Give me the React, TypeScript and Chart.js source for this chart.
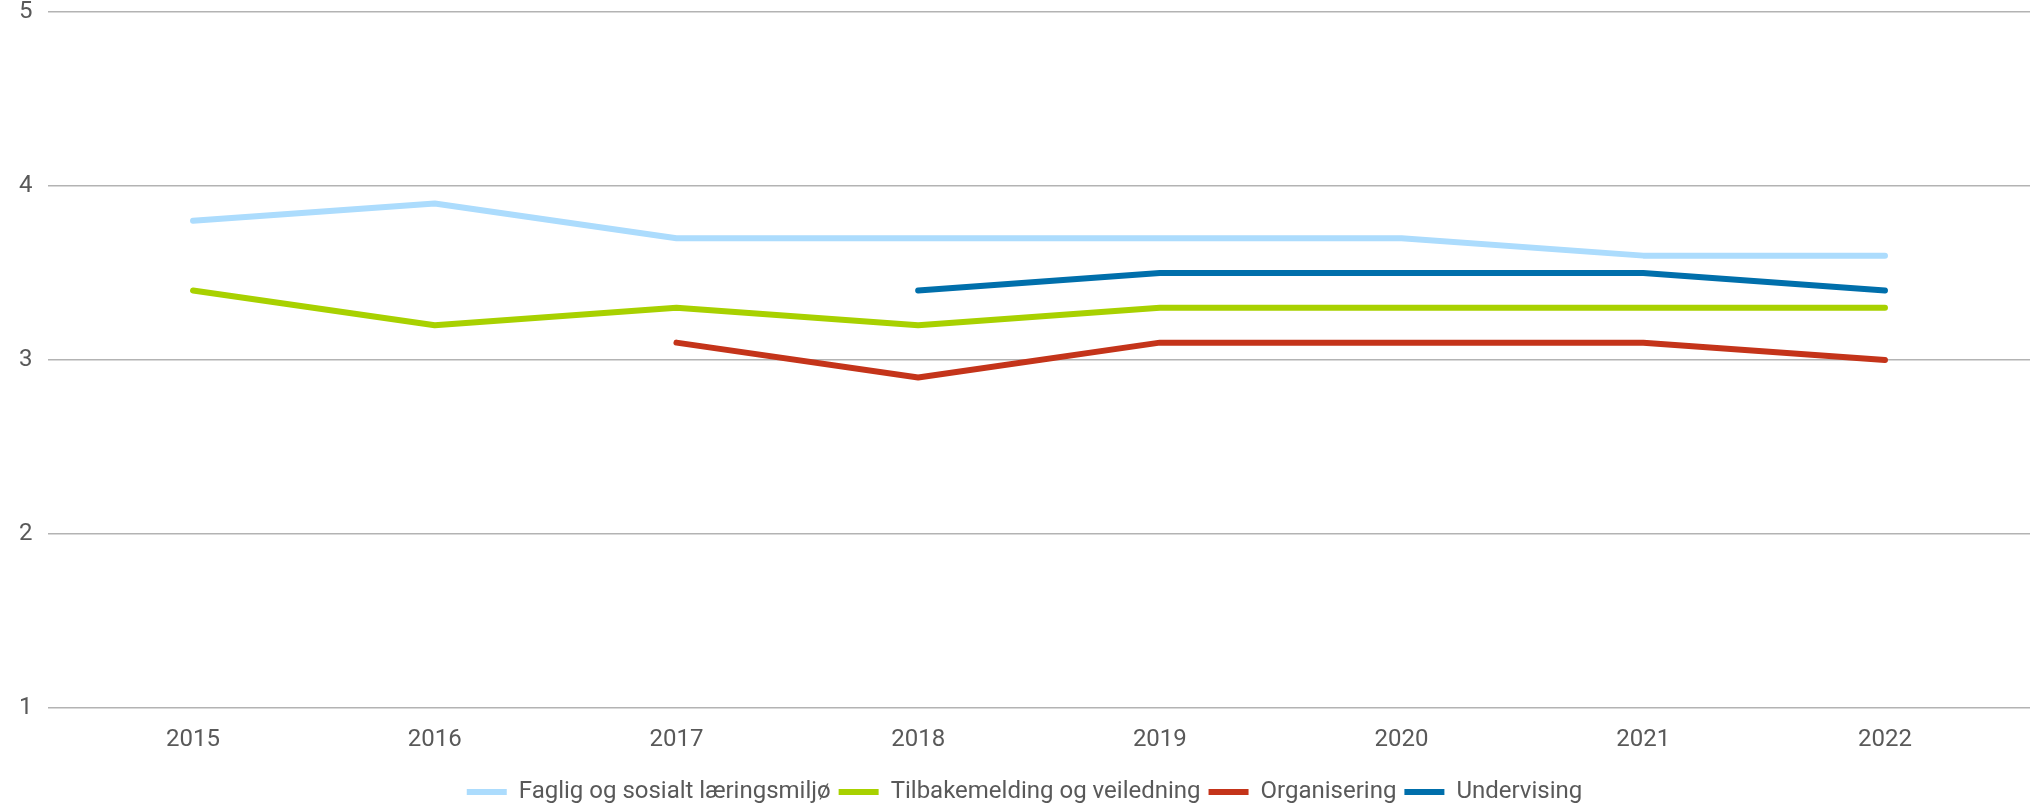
import React, { useEffect, useRef } from "react";
import { Chart, registerables } from "chart.js";

Chart.register(...registerables);

const years = [2015, 2016, 2017, 2018, 2019, 2020, 2021, 2022];
const fagligSosialt = [3.8, 3.9, 3.7, 3.7, 3.7, 3.7, 3.6, 3.6];
const tilbakemelding = [3.4, 3.2, 3.3, 3.2, 3.3, 3.3, 3.3, 3.3];
const organisering = [null, null, 3.1, 2.9, 3.1, 3.1, 3.1, 3.0];
const undervising = [null, null, null, 3.4, 3.5, 3.5, 3.5, 3.4];
const seriesNames = [
  "Faglig og sosialt læringsmiljø",
  "Tilbakemelding og veiledning",
  "Organisering",
  "Undervising",
];
const seriesColors = ["#acdcfd", "#a8d100", "#c4341a", "#006fab"];
const yTicks = [1, 2, 3, 4, 5];

export default function App() {
  const ref = useRef<HTMLCanvasElement | null>(null);
  useEffect(() => {
    if (!ref.current) return;
    const allSeries = [fagligSosialt, tilbakemelding, organisering, undervising];
    const chart = new Chart(ref.current, {
      type: "line",
      data: {
        datasets: allSeries.map((s, i) => ({
          label: seriesNames[i],
          data: years.map((y, j) => ({ x: y, y: s[j] as any })),
          borderColor: seriesColors[i],
          backgroundColor: seriesColors[i],
          borderWidth: 6,
          borderCapStyle: "round" as const,
          borderJoinStyle: "round" as const,
          pointRadius: 0,
          pointHoverRadius: 0,
          pointStyle: "line" as const,
          tension: 0,
          fill: false,
          spanGaps: false,
        })),
      },
      options: {
        animation: false,
        responsive: false,
        maintainAspectRatio: false,
        layout: { padding: { top: 0, right: 8, left: 19, bottom: -8 } },
        plugins: {
          tooltip: { enabled: false },
          legend: {
            position: "bottom",
            labels: {
              usePointStyle: true,
              pointStyleWidth: 40,
              boxHeight: 5,
              padding: 8,
              color: "#595959",
              font: { family: "Roboto", size: 24 },
            },
          },
        },
        scales: {
          x: {
            type: "linear",
            min: 2014.4,
            max: 2022.6,
            grid: { display: false, drawTicks: false },
            border: { display: false },
            afterBuildTicks: (scale: any) => {
              scale.ticks = years.map((v) => ({ value: v }));
            },
            ticks: {
              padding: 10,
              color: "#595959",
              font: { family: "Roboto", size: 24, lineHeight: 1.83 },
              callback: (v: any) => String(v),
              maxRotation: 0,
            },
          },
          y: {
            min: 1,
            max: 5,
            afterBuildTicks: (scale: any) => {
              scale.ticks = yTicks.map((v) => ({ value: v }));
            },
            afterFit: (scale: any) => {
              scale.width = 29;
            },
            grid: { color: "#b3b3b3", lineWidth: 1.5, drawTicks: false },
            border: { display: false },
            ticks: {
              padding: 0,
              crossAlign: "far",
              color: "#595959",
              font: { family: "Roboto", size: 24, lineHeight: 1 },
            },
          },
        },
      },
    });
    return () => chart.destroy();
  }, []);
  return (
    <div style={{ position: "fixed", left: 0, top: 0, width: 2038, height: 806, background: "#fff" }}>
      <canvas ref={ref} width={2038} height={806} style={{ width: 2038, height: 806 }} />
    </div>
  );
}
